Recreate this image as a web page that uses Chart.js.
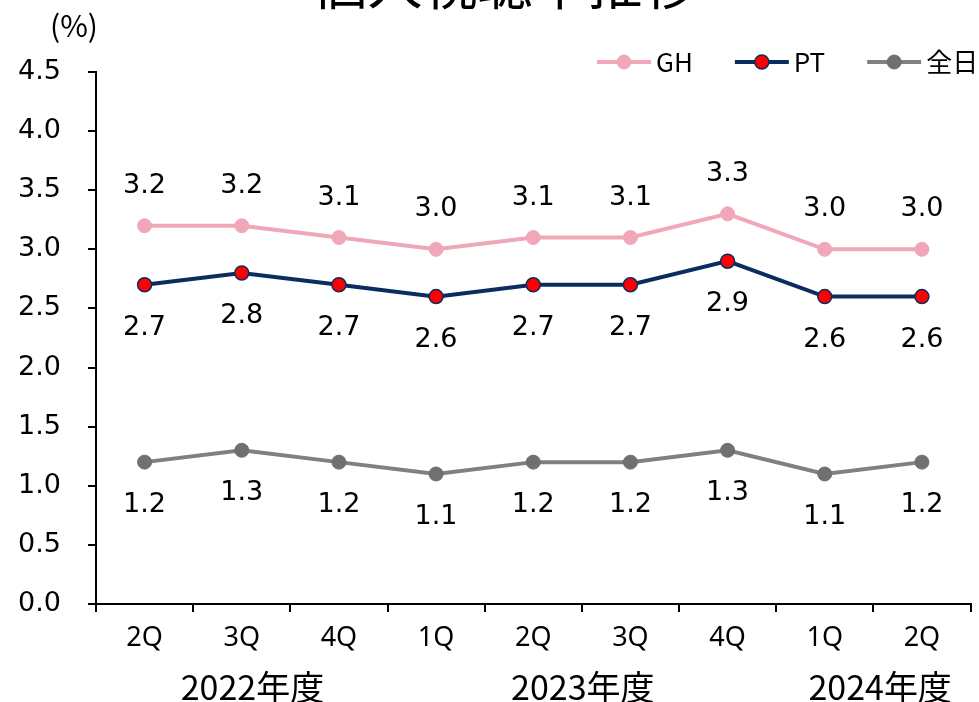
<!DOCTYPE html>
<html>
<head>
<meta charset="utf-8">
<script src="https://cdn.jsdelivr.net/npm/chart.js@4"></script>
<style>
  html, body { margin: 0; padding: 0; background: #fff; }
  #wrap { width: 979px; height: 702px; position: relative; }
</style>
</head>
<body>
<div id="wrap"><canvas id="chart"></canvas></div>
<script>
// データ
const quarters = ["2Q", "3Q", "4Q", "1Q", "2Q", "3Q", "4Q", "1Q", "2Q"];
const ghValues = [3.2, 3.2, 3.1, 3.0, 3.1, 3.1, 3.3, 3.0, 3.0];
const ptValues = [2.7, 2.8, 2.7, 2.6, 2.7, 2.7, 2.9, 2.6, 2.6];
const allDayValues = [1.2, 1.3, 1.2, 1.1, 1.2, 1.2, 1.3, 1.1, 1.2];
const yearLabels = ["2022年度", "2023年度", "2024年度"];
const yearCenters = [1.11, 4.51, 7.57];   // カテゴリ位置(インデックス)
const yTicks = [0, 0.5, 1.0, 1.5, 2.0, 2.5, 3.0, 3.5, 4.0, 4.5];
const chartTitle = "個人視聴率推移";
const unitLabel = "(%)";

const numFont = "'DejaVu Sans', Verdana, sans-serif";
const jpFont = "'Noto Sans CJK JP'";

// ラベルを上に出すか下に出すか
const labelShift = [-40, 43, 43];

const extras = {
  id: "extras",
  afterDatasetsDraw(chart) {
    const ctx = chart.ctx;
    const x = chart.scales.x;

    // データラベル
    ctx.save();
    ctx.fillStyle = "#000";
    ctx.font = "27px " + numFont;
    ctx.textAlign = "center";
    ctx.textBaseline = "middle";
    chart.data.datasets.forEach((ds, i) => {
      chart.getDatasetMeta(i).data.forEach((pt, j) => {
        ctx.fillText(ds.data[j].toFixed(1), pt.x, pt.y + labelShift[i]);
      });
    });
    ctx.restore();

    // 年度ラベル
    ctx.save();
    ctx.fillStyle = "#000";
    ctx.font = "34px " + jpFont;
    ctx.textAlign = "center";
    ctx.textBaseline = "middle";
    yearLabels.forEach((lbl, i) => {
      ctx.fillText(lbl, x.getPixelForValue(yearCenters[i]), 687);
    });
    ctx.restore();

    // 単位
    ctx.save();
    ctx.fillStyle = "#000";
    ctx.font = "30px " + jpFont;
    ctx.textAlign = "center";
    ctx.textBaseline = "middle";
    ctx.fillText(unitLabel, 74, 26);
    ctx.restore();

    // タイトル(上が切れている)
    ctx.save();
    ctx.fillStyle = "#000";
    ctx.font = "55px " + jpFont;
    ctx.textAlign = "center";
    ctx.textBaseline = "alphabetic";
    ctx.fillText(chartTitle, 505, 4);
    ctx.restore();

    // 凡例
    ctx.save();
    ctx.font = "26px " + jpFont;
    ctx.textBaseline = "middle";
    let lx = 597;
    const ly = 62;
    chart.data.datasets.forEach(ds => {
      ctx.strokeStyle = ds.borderColor;
      ctx.lineWidth = ds.borderWidth;
      ctx.beginPath();
      ctx.moveTo(lx, ly);
      ctx.lineTo(lx + 54, ly);
      ctx.stroke();
      ctx.beginPath();
      ctx.arc(lx + 27, ly, ds.pointRadius, 0, Math.PI * 2);
      ctx.fillStyle = ds.pointBackgroundColor;
      ctx.fill();
      ctx.lineWidth = ds.pointBorderWidth;
      ctx.strokeStyle = ds.pointBorderColor;
      ctx.stroke();
      ctx.fillStyle = "#000";
      ctx.fillText(ds.label, lx + 59, ly);
      lx += 59 + ctx.measureText(ds.label).width + 42;
    });
    ctx.restore();
  }
};

new Chart(document.getElementById("chart"), {
  type: "line",
  data: {
    labels: quarters,
    datasets: [
      {
        label: "GH",
        data: ghValues,
        borderColor: "#F0A7B8",
        backgroundColor: "#F0A7B8",
        pointBackgroundColor: "#F0A7B8",
        pointBorderColor: "#F0A7B8",
        pointBorderWidth: 1,
        borderWidth: 4,
        pointRadius: 7
      },
      {
        label: "PT",
        data: ptValues,
        borderColor: "#0B2C5E",
        backgroundColor: "#0B2C5E",
        pointBackgroundColor: "#FF0000",
        pointBorderColor: "#0B2C5E",
        pointBorderWidth: 1.5,
        borderWidth: 4,
        pointRadius: 7
      },
      {
        label: "全日",
        data: allDayValues,
        borderColor: "#808080",
        backgroundColor: "#707070",
        pointBackgroundColor: "#707070",
        pointBorderColor: "#707070",
        pointBorderWidth: 1,
        borderWidth: 4,
        pointRadius: 7
      }
    ]
  },
  options: {
    responsive: true,
    maintainAspectRatio: false,
    animation: false,
    layout: { padding: { top: 72, right: 7, left: 0, bottom: 0 } },
    plugins: {
      legend: { display: false },
      tooltip: { enabled: false }
    },
    scales: {
      x: {
        offset: true,
        grid: {
          offset: true,
          drawOnChartArea: false,
          drawTicks: true,
          tickLength: 8,
          color: "#000",
          lineWidth: 2
        },
        border: { color: "#000", width: 2 },
        ticks: {
          color: "#000",
          font: { family: "'Noto Sans'", size: 27 },
          padding: 10,
          maxRotation: 0
        },
        afterFit(scale) { scale.height = 98; }
      },
      y: {
        min: 0,
        max: 4.5,
        afterBuildTicks(scale) { scale.ticks = yTicks.map(v => ({ value: v })); },
        grid: {
          drawOnChartArea: false,
          drawTicks: true,
          tickLength: 8,
          color: "#000",
          lineWidth: 2
        },
        border: { color: "#000", width: 2 },
        ticks: {
          color: "#000",
          font: { family: numFont, size: 27 },
          padding: 27,
          callback: v => Number(v).toFixed(1)
        },
        afterFit(scale) { scale.width = 96; }
      }
    }
  },
  plugins: [extras]
});
</script>
</body>
</html>
